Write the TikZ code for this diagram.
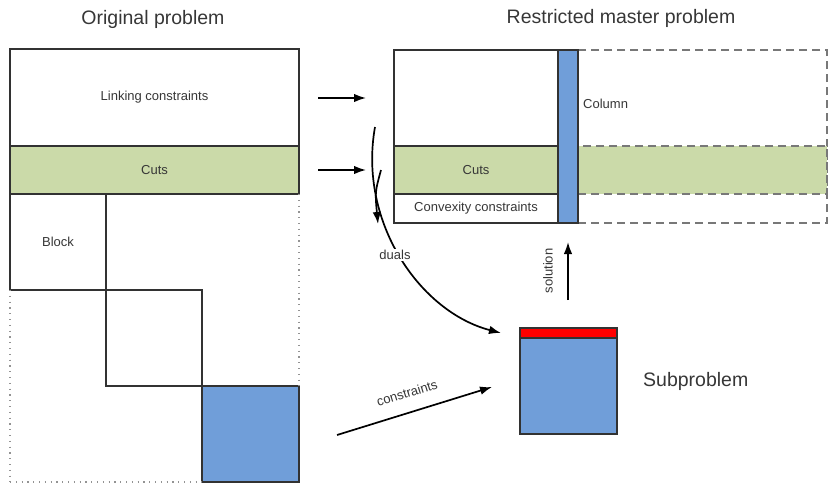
\documentclass[tikz,border=0pt]{standalone}
\usepackage{fontspec}
\setmainfont{Liberation Sans}
\usetikzlibrary{arrows.meta}
\definecolor{cutgreen}{RGB}{203,218,169}
\definecolor{colblue}{RGB}{112,158,217}
\definecolor{linegray}{RGB}{50,50,50}
\definecolor{txtgray}{RGB}{55,55,55}
\definecolor{dashgray}{RGB}{120,120,120}
\begin{document}
\begin{tikzpicture}[x=1pt,y=-1pt,
  every node/.style={text=txtgray},
  rect/.style={draw=linegray, line width=1.2pt, inner sep=0pt, outer sep=0pt, anchor=north west},
  small/.style={font=\fontsize{13}{15}\selectfont},
  big/.style={font=\fontsize{19.5}{23}\selectfont},
  dotline/.style={draw=dashgray!80, line width=1.2pt, dash pattern=on 1.2pt off 4.6pt},
  dashline/.style={draw=dashgray, line width=1.3pt, dash pattern=on 8pt off 5pt},
  arr/.style={draw=black, line width=1.7pt, -{Latex[length=12pt,width=8.5pt]}},
]
\useasboundingbox (0,0) rectangle (828,483);
\fill[white] (0,0) rectangle (828,483);

% titles
\node[big] (t1) at (153,19) {Original problem};
\node[big] (t2) at (621,18) {Restricted master problem};

% original problem
\node[rect, minimum width=289pt, minimum height=97pt, small] (lnk) at (10,49) {Linking constraints};
\node[rect, fill=cutgreen, minimum width=289pt, minimum height=48pt, small] (cuts1) at (10,146) {Cuts};
\node[rect, minimum width=96pt, minimum height=96pt, small] (b1) at (10,194) {Block};
\node[rect, minimum width=96pt, minimum height=96pt] (b2) at (106,290) {};
\node[rect, fill=colblue, minimum width=97pt, minimum height=96pt] (b3) at (202,386) {};
\draw[dotline] (cuts1.south east) -- (b3.north east);
\draw[dotline] (b1.south west) -- (b1.south west |- b3.south);
\draw[dotline] (b1.south west |- b3.south) -- (b3.south west);

% restricted master problem
\node[rect, dashline, fill=white, minimum width=249pt, minimum height=173pt] (ext) at (578,50) {};
\node[rect, dashline, fill=cutgreen, minimum width=249pt, minimum height=48pt] (extcuts) at (578,146) {};
\node[rect, minimum width=164pt, minimum height=96pt] (rlnk) at (394,50) {};
\node[rect, fill=cutgreen, minimum width=164pt, minimum height=48pt, small] (cuts2) at (394,146) {Cuts};
\node[rect, minimum width=164pt, minimum height=29pt, small] (conv) at (394,194) {Convexity constraints};
\node[rect, fill=colblue, minimum width=20pt, minimum height=173pt] (col) at (558,50) {};
\node[small, anchor=west, inner sep=0pt] (collab) at (583,104) {Column};

% subproblem
\node[rect, fill=red, minimum width=97pt, minimum height=10pt] (red) at (520,328) {};
\node[rect, fill=colblue, minimum width=97pt, minimum height=96pt] (sub) at (520,338) {};
\node[big, anchor=west, inner sep=0pt] (sublab) at (643,381) {Subproblem};

% arrows
\coordinate (a1s) at (318,98);  \coordinate (a1e) at (366,98);
\coordinate (a2s) at (318,170); \coordinate (a2e) at (366,170);
\draw[arr] (a1s) -- (a1e);
\draw[arr] (a2s) -- (a2e);

\coordinate (ds) at (375,127); \coordinate (de) at (501,333);
\draw[arr] (ds) .. controls (358,222) and (420,312) .. (de);
\node[small, fill=white, inner sep=1.5pt] (duals) at (395,255) {duals};

\coordinate (bs) at (381,170); \coordinate (be) at (378,224);
\draw[arr] (bs) .. controls (375,192) .. (be);

\coordinate (ss) at (568,300); \coordinate (se) at (568,242);
\draw[arr] (ss) -- (se);
\node[small, rotate=90] (sollab) at (548,271) {solution};

\coordinate (cs) at (337,435); \coordinate (ce) at (492,387);
\draw[arr] (cs) -- (ce);
\node[small, rotate=17.3] (conlab) at (407,393) {constraints};
\end{tikzpicture}
\end{document}
